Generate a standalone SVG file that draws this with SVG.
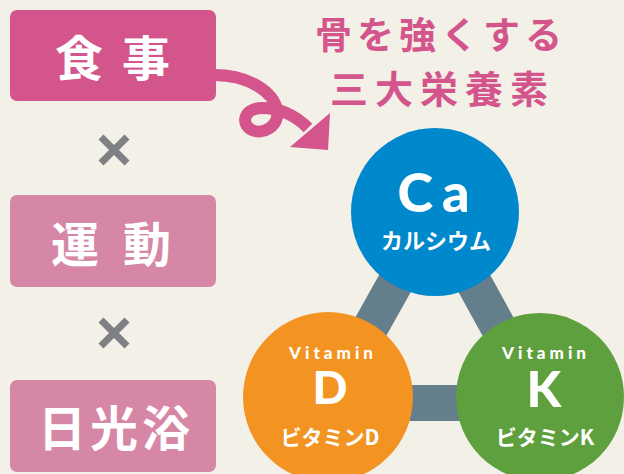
<svg xmlns="http://www.w3.org/2000/svg" width="624" height="474" viewBox="0 0 624 474">
<defs>
<style>
.jp{font-family:"Noto Sans CJK JP","Noto Sans",sans-serif;font-weight:bold;fill:#fff}
.lat{font-family:"Lato","Noto Sans","Liberation Sans",sans-serif;font-weight:900;fill:#fff;text-anchor:middle}
.title{font-family:"Noto Sans CJK JP",sans-serif;font-weight:bold;fill:#D4548C}
.x{stroke:#7F8083;stroke-width:7;fill:none}
</style>
</defs>
<rect width="624" height="474" fill="#F3F0E8"/>

<g id="connectors">
<polygon points="435,212 328,403 540,403" fill="none" stroke="#647E8B" stroke-width="36" stroke-linejoin="round"/>
<path d="M214,75 C250,75 274,93 277,110 C280,127 262,135 252,130 C240,124 244,108 262,108 C280,108 296,116 308,128" fill="none" stroke="#D4548C" stroke-width="12"/>
<polygon points="330,113 328,150 290,147" fill="#D4548C"/>
</g>

<g id="box-meal">
<rect x="10" y="10" width="206" height="91" rx="7" fill="#D4548C"/>
<text class="jp" x="55" y="76" font-size="48" letter-spacing="19">食事</text>
</g>
<g id="times1"><path class="x" d="M101,137 L127,163 M127,137 L101,163"/></g>
<g id="box-exercise">
<rect x="10" y="195" width="206" height="92" rx="7" fill="#D687A6"/>
<text class="jp" x="51" y="262" font-size="48" letter-spacing="24">運動</text>
</g>
<g id="times2"><path class="x" d="M101,320 L127,346 M127,320 L101,346"/></g>
<g id="box-sun">
<rect x="10" y="380" width="206" height="92" rx="7" fill="#D687A6"/>
<text class="jp" x="38" y="446" font-size="48" letter-spacing="4">日光浴</text>
</g>

<g id="title">
<text class="title" x="315" y="49" font-size="37" letter-spacing="5">骨を強くする</text>
<text class="title" x="330" y="103" font-size="38" letter-spacing="7">三大栄養素</text>
</g>

<g id="node-ca">
<circle cx="435" cy="212" r="84" fill="#0088CC"/>
<text class="lat" x="438" y="212" font-size="54" letter-spacing="9">Ca</text>
<text class="jp" x="436" y="249" font-size="22" text-anchor="middle">カルシウム</text>
</g>
<g id="node-d">
<circle cx="328" cy="397" r="85" fill="#F39322"/>
<text class="lat" x="333" y="359" font-size="17" letter-spacing="4">Vitamin</text>
<text class="lat" x="330" y="404" font-size="46">D</text>
<text class="jp" x="330" y="445" font-size="21" text-anchor="middle">ビタミンD</text>
</g>
<g id="node-k">
<circle cx="540" cy="397" r="84" fill="#5FA03E"/>
<text class="lat" x="546" y="359" font-size="17" letter-spacing="4">Vitamin</text>
<text class="lat" x="544" y="407" font-size="50">K</text>
<text class="jp" x="545" y="445" font-size="21" text-anchor="middle">ビタミンK</text>
</g>
</svg>
